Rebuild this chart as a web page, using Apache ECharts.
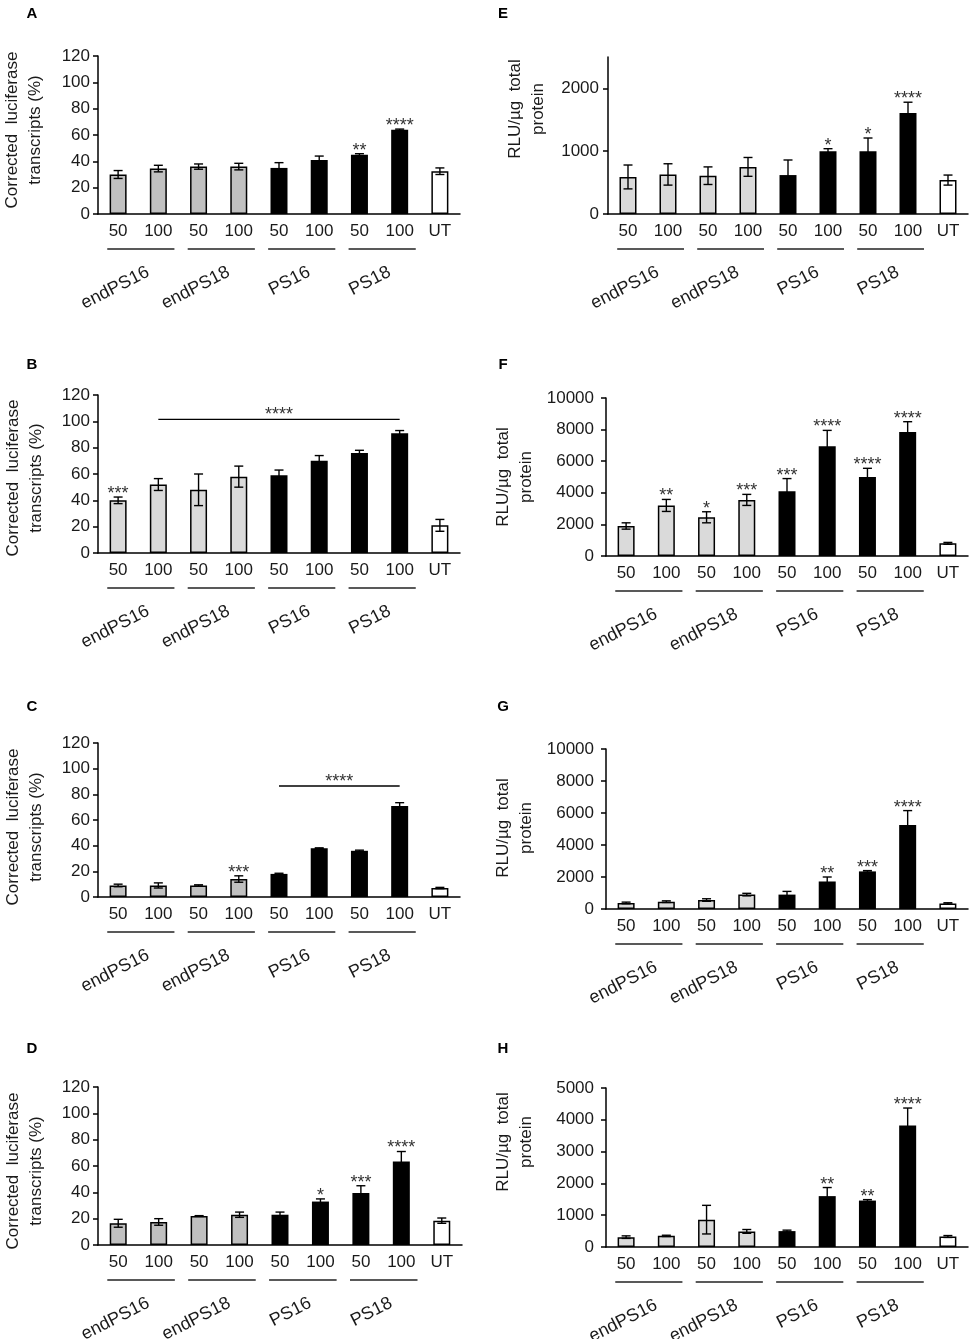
<!DOCTYPE html>
<html>
<head>
<meta charset="utf-8">
<script src="https://cdn.jsdelivr.net/npm/echarts@6/dist/echarts.min.js"></script>
<style>
  html, body { margin: 0; padding: 0; background: #fff; }
  #chart { width: 973px; height: 1339px; }
</style>
</head>
<body>
<div id="chart"></div>
<script>
// bar order: endPS16 50/100, endPS18 50/100, PS16 50/100, PS18 50/100, UT
const categories = ['50', '100', '50', '100', '50', '100', '50', '100', 'UT'];
const groupNames = ['endPS16', 'endPS18', 'PS16', 'PS18'];
const barKinds = ['g', 'g', 'g', 'g', 'k', 'k', 'k', 'k', 'w'];

// corrected luciferase transcripts (%)
const aMeans = [30, 34.5, 36, 36, 35, 41, 45, 64, 32.5];
const aErrors = [3, 2.5, 2, 2.5, 4, 3, 0.8, 0.5, 2.5];
const aStars = ['', '', '', '', '', '', '**', '****', ''];

const bMeans = [40, 52, 48, 58, 59, 70, 76, 91, 21];
const bErrors = [2.5, 4.5, 12, 8, 4, 4, 2, 2, 4.5];
const bStars = ['***', '', '', '', '', '', '', '', ''];
const bBracket = [1, 7, 101.5];

const cMeans = [9, 9, 9, 14, 18, 38, 36, 71, 7];
const cErrors = [1, 2, 0.5, 2.5, 0.5, 0.3, 0.5, 2.5, 0.5];
const cStars = ['', '', '', '***', '', '', '', '', ''];
const cBracket = [4, 7, 86.5];

const dMeans = [16.5, 17.5, 22, 23, 23, 33, 39.5, 63.5, 18.5];
const dErrors = [3, 2.5, 0.3, 2, 2, 2, 5.5, 7.5, 2];
const dStars = ['', '', '', '', '', '*', '***', '****', ''];

// RLU / µg total protein
const eMeans = [590, 630, 610, 750, 620, 1000, 1000, 1610, 540];
const eErrors = [190, 170, 140, 150, 240, 40, 210, 170, 80];
const eStars = ['', '', '', '', '', '*', '*', '****', ''];

const fMeans = [1900, 3200, 2450, 3550, 4100, 6950, 5000, 7850, 800];
const fErrors = [200, 380, 350, 350, 800, 1000, 550, 650, 60];
const fStars = ['', '**', '*', '***', '***', '****', '****', '****', ''];

const gMeans = [380, 460, 560, 900, 900, 1720, 2350, 5250, 350];
const gErrors = [50, 50, 80, 80, 200, 280, 50, 900, 40];
const gStars = ['', '', '', '', '', '**', '***', '****', ''];

const hMeans = [310, 350, 860, 490, 500, 1600, 1460, 3820, 330];
const hErrors = [40, 20, 450, 60, 30, 270, 30, 550, 30];
const hStars = ['', '', '', '', '', '**', '**', '****', ''];

const FONT = '"Liberation Sans", Arial, sans-serif';
const TXT = '#1a1a1a';
const transTitle = 'Corrected  luciferase\ntranscripts (%)';
const rluTitle = 'RLU/µg  total\nprotein';

let panels = [
  { letter: 'A', means: aMeans, errors: aErrors, stars: aStars, gray: '#c0c0c0', max: 120, interval: 20,
    grid: { left: 98, top: 56, width: 362, height: 158 }, title: [24, 130], titleText: transTitle, lab: [32, 14] },
  { letter: 'B', means: bMeans, errors: bErrors, stars: bStars, bracket: bBracket, gray: '#dadada', max: 120, interval: 20,
    grid: { left: 98, top: 395, width: 362, height: 158 }, title: [25, 478], titleText: transTitle, lab: [32, 365] },
  { letter: 'C', means: cMeans, errors: cErrors, stars: cStars, bracket: cBracket, gray: '#c0c0c0', max: 120, interval: 20,
    grid: { left: 98, top: 743, width: 362, height: 154 }, title: [25, 827], titleText: transTitle, lab: [32, 707] },
  { letter: 'D', means: dMeans, errors: dErrors, stars: dStars, gray: '#c0c0c0', max: 120, interval: 20,
    grid: { left: 98, top: 1087, width: 364, height: 158 }, title: [25, 1171], titleText: transTitle, lab: [32, 1049] },
  { letter: 'E', means: eMeans, errors: eErrors, stars: eStars, gray: '#dadada', max: 2500, interval: 1000, ticks: [0, 1000, 2000],
    grid: { left: 608, top: 57, width: 360, height: 157 }, title: [527, 109], titleText: rluTitle, lab: [503, 14], labMargin: 9 },
  { letter: 'F', means: fMeans, errors: fErrors, stars: fStars, gray: '#dadada', max: 10000, interval: 2000,
    grid: { left: 606, top: 398, width: 362, height: 158 }, title: [515, 477], titleText: rluTitle, lab: [503, 365], labMargin: 12 },
  { letter: 'G', means: gMeans, errors: gErrors, stars: gStars, gray: '#dadada', max: 10000, interval: 2000,
    grid: { left: 606, top: 749, width: 362, height: 160 }, title: [515, 828], titleText: rluTitle, lab: [503, 707], labMargin: 12 },
  { letter: 'H', means: hMeans, errors: hErrors, stars: hStars, gray: '#dadada', max: 5000, interval: 1000,
    grid: { left: 606, top: 1088, width: 362, height: 159 }, title: [515, 1142], titleText: rluTitle, lab: [503, 1049], labMargin: 12 }
];

function makeErrorRender(stars) {
  return function (params, api) {
    const i = api.value(0), m = api.value(1), e = api.value(2);
    const hi = api.coord([i, m + e]);
    const lo = api.coord([i, m - e]);
    const cap = 4.5;
    const st = { stroke: '#000', lineWidth: 1.4 };
    const kids = [
      { type: 'line', shape: { x1: hi[0], y1: hi[1], x2: lo[0], y2: lo[1] }, style: st },
      { type: 'line', shape: { x1: hi[0] - cap, y1: hi[1], x2: hi[0] + cap, y2: hi[1] }, style: st },
      { type: 'line', shape: { x1: lo[0] - cap, y1: lo[1], x2: lo[0] + cap, y2: lo[1] }, style: st }
    ];
    const s = stars[params.dataIndex];
    if (s) {
      kids.push({ type: 'text', x: hi[0], y: hi[1] - 3,
        style: { text: s, fontSize: 18, fontFamily: FONT, fill: '#333', align: 'center', verticalAlign: 'middle' } });
    }
    return { type: 'group', children: kids };
  };
}

function groupRender(params, api) {
  const i = api.value(0);
  const a = api.coord([i, 0]);
  const b = api.coord([i + 1, 0]);
  const band = api.size([1, 0])[0];
  const y = a[1] + 35;
  const mid = (a[0] + b[0]) / 2;
  return { type: 'group', children: [
    { type: 'line', shape: { x1: a[0] - band * 0.27, y1: y, x2: b[0] + band * 0.4, y2: y },
      style: { stroke: '#222', lineWidth: 1.3 } },
    { type: 'text', x: mid + 10, y: a[1] + 57, rotation: 27 * Math.PI / 180,
      style: { text: groupNames[params.dataIndex], fontSize: 18, fontFamily: FONT, fill: TXT,
        align: 'right', verticalAlign: 'middle' } }
  ] };
}

function bracketRender(params, api) {
  const v = api.value(2);
  const a = api.coord([api.value(0), v]);
  const b = api.coord([api.value(1), v]);
  return { type: 'group', children: [
    { type: 'line', shape: { x1: a[0], y1: a[1], x2: b[0], y2: b[1] }, style: { stroke: '#000', lineWidth: 1.3 } },
    { type: 'text', x: (a[0] + b[0]) / 2, y: a[1] - 4,
      style: { text: '****', fontSize: 18, fontFamily: FONT, fill: '#333', align: 'center', verticalAlign: 'middle' } }
  ] };
}

let grids = [], xAxes = [], yAxes = [], series = [], graphics = [];

panels.forEach(function (p, k) {
  grids.push(Object.assign({ containLabel: false }, p.grid));

  xAxes.push({
    gridIndex: k, type: 'category', data: categories,
    axisLine: { lineStyle: { color: '#000', width: 1.5 } },
    axisTick: { show: false },
    axisLabel: { interval: 0, fontSize: 17, fontFamily: FONT, color: TXT, margin: 9 }
  });

  let y = {
    gridIndex: k, type: 'value', min: 0, max: p.max, interval: p.interval,
    axisLine: { show: true, lineStyle: { color: '#000', width: 1.5 } },
    axisTick: { show: true, length: 5, lineStyle: { color: '#000', width: 1.5 } },
    axisLabel: { fontSize: 17, fontFamily: FONT, color: TXT, margin: p.labMargin || 8,
      formatter: function (v) { return String(v); } },
    splitLine: { show: false }
  };
  if (p.ticks) {
    y.axisTick.customValues = p.ticks;
    y.axisLabel.customValues = p.ticks;
  }
  yAxes.push(y);

  series.push({
    type: 'bar', xAxisIndex: k, yAxisIndex: k, barWidth: 17, silent: true,
    data: p.means.map(function (v, i) {
      const kind = barKinds[i];
      return {
        value: v,
        itemStyle: {
          color: kind === 'g' ? p.gray : (kind === 'k' ? '#000' : '#fff'),
          borderColor: '#000', borderWidth: kind === 'k' ? 0 : 1.5
        }
      };
    })
  });

  series.push({
    type: 'custom', xAxisIndex: k, yAxisIndex: k, silent: true, z: 5,
    encode: { x: 0, y: 1 },
    data: p.means.map(function (v, i) { return [i, v, p.errors[i]]; }),
    renderItem: makeErrorRender(p.stars)
  });

  series.push({
    type: 'custom', xAxisIndex: k, yAxisIndex: k, silent: true,
    encode: { x: 0, y: 1 },
    data: groupNames.map(function (g, j) { return [j * 2, 0]; }),
    renderItem: groupRender
  });

  if (p.bracket) {
    series.push({
      type: 'custom', xAxisIndex: k, yAxisIndex: k, silent: true,
      encode: { x: [0, 1], y: 2 },
      data: [p.bracket],
      renderItem: bracketRender
    });
  }

  graphics.push({
    type: 'text', x: p.lab[0], y: p.lab[1],
    style: { text: p.letter, fontSize: 15, fontWeight: 'bold', fontFamily: FONT, fill: '#000',
      align: 'center', verticalAlign: 'middle' }
  });
  graphics.push({
    type: 'text', x: p.title[0], y: p.title[1], rotation: Math.PI / 2,
    style: { text: p.titleText, fontSize: 17, lineHeight: 23, fontFamily: FONT, fill: TXT,
      align: 'center', verticalAlign: 'middle' }
  });
});

let option = {
  backgroundColor: '#fff',
  animation: false,
  grid: grids,
  xAxis: xAxes,
  yAxis: yAxes,
  series: series,
  graphic: graphics
};

let myChart = echarts.init(document.getElementById('chart'));
myChart.setOption(option);
</script>
</body>
</html>
